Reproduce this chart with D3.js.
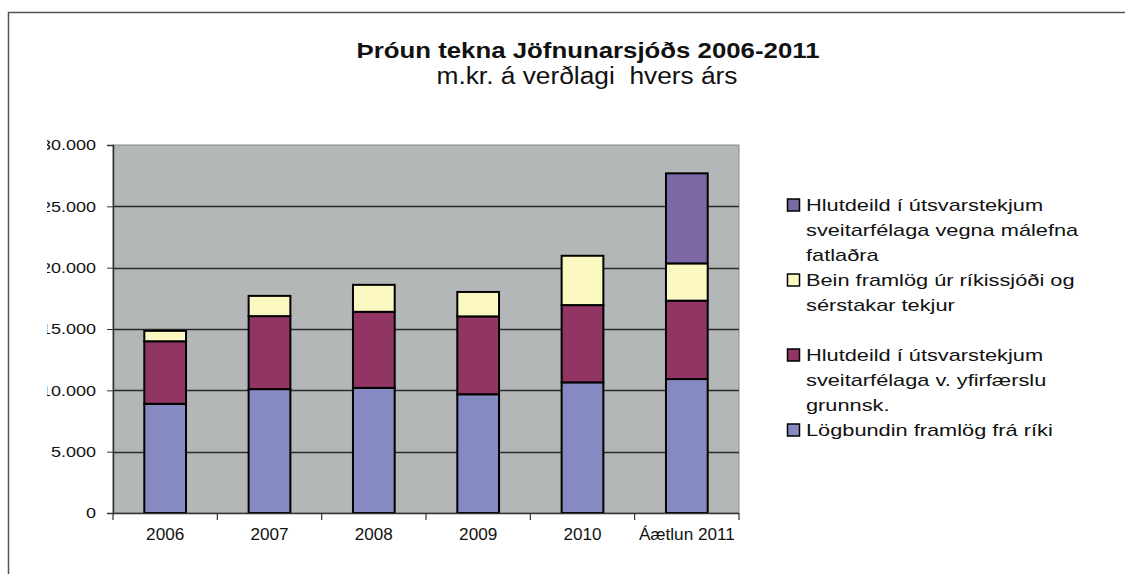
<!DOCTYPE html>
<html>
<head>
<meta charset="utf-8">
<script src="https://cdn.jsdelivr.net/npm/d3@7"></script>
<style>
  body { margin: 0; background: #fff; }
  svg { font-family: "Liberation Sans", Arial, sans-serif; }
</style>
</head>
<body>
<svg id="vis" width="1125" height="574"></svg>
<script>
// data (m.kr.)
const years = ['2006', '2007', '2008', '2009', '2010', 'Áætlun 2011'];
const logbundin = [8900, 10100, 10200, 9680, 10650, 10920];
const grunnsk = [5100, 5950, 6200, 6350, 6300, 6390];
const bein = [850, 1650, 2200, 1990, 4020, 3040];
const fatladra = [0, 0, 0, 0, 0, 7340];
const yTicks = [0, 5000, 10000, 15000, 20000, 25000, 30000];

const seriesKeys = ['logbundin', 'grunnsk', 'bein', 'fatladra'];
const colors = {
  logbundin: '#8689c2',
  grunnsk: '#913564',
  bein: '#fbf8c2',
  fatladra: '#7c68a4'
};
const legendLines = {
  fatladra: ['Hlutdeild í útsvarstekjum', 'sveitarfélaga vegna málefna', 'fatlaðra'],
  bein: ['Bein framlög úr ríkissjóði og', 'sérstakar tekjur'],
  grunnsk: ['Hlutdeild í útsvarstekjum', 'sveitarfélaga v. yfirfærslu', 'grunnsk.'],
  logbundin: ['Lögbundin framlög frá ríki']
};

let vis = d3.select('#vis');

// the original text is a bit wider than the font, stretch it
const stretch = (sel, k) => {
  sel.each(function () {
    const w = this.getComputedTextLength();
    d3.select(this)
      .attr('textLength', w * k)
      .attr('lengthAdjust', 'spacingAndGlyphs');
  });
};

// outer frame (top and left edge visible)
vis.append('path')
  .attr('d', 'M8.5,574 V12.5 H1125')
  .attr('fill', 'none')
  .attr('stroke', '#555')
  .attr('stroke-width', 1.5);

// titles
vis.append('text')
  .attr('x', 588).attr('y', 58)
  .attr('text-anchor', 'middle')
  .attr('font-size', 22).attr('font-weight', 'bold')
  .attr('fill', '#111')
  .attr('textLength', 463).attr('lengthAdjust', 'spacingAndGlyphs')
  .text('Þróun tekna Jöfnunarsjóðs 2006-2011');
vis.append('text')
  .attr('x', 587).attr('y', 84)
  .attr('text-anchor', 'middle')
  .attr('font-size', 23)
  .attr('fill', '#111')
  .attr('textLength', 301).attr('lengthAdjust', 'spacingAndGlyphs')
  .style('white-space', 'pre')
  .text('m.kr. á verðlagi  hvers árs');

const plot = { left: 113, right: 739, top: 145, bottom: 513 };

const x = d3.scaleBand()
  .domain(years)
  .range([plot.left, plot.right])
  .paddingInner(0.6)
  .paddingOuter(0.3);

const y = d3.scaleLinear()
  .domain([0, 30000])
  .range([plot.bottom, plot.top]);

// plot background
vis.append('rect')
  .attr('x', plot.left).attr('y', plot.top)
  .attr('width', plot.right - plot.left)
  .attr('height', plot.bottom - plot.top)
  .attr('fill', '#b4b7b8')
  .attr('stroke', '#8a8a8a')
  .attr('stroke-width', 1);

// gridlines
vis.append('g')
  .selectAll('line')
  .data(yTicks.filter(d => d > 0 && d < 30000))
  .enter()
  .append('line')
  .attr('x1', plot.left).attr('x2', plot.right)
  .attr('y1', d => Math.round(y(d)) + 0.5)
  .attr('y2', d => Math.round(y(d)) + 0.5)
  .attr('stroke', '#2a2a2a')
  .attr('stroke-width', 1.3);

// stacked bars
const table = years.map((yr, i) => ({
  year: yr,
  logbundin: logbundin[i],
  grunnsk: grunnsk[i],
  bein: bein[i],
  fatladra: fatladra[i]
}));
const stacked = d3.stack().keys(seriesKeys)(table);

vis.append('g')
  .selectAll('g')
  .data(stacked)
  .enter()
  .append('g')
  .attr('fill', d => colors[d.key])
  .selectAll('rect')
  .data(d => d.filter(s => s[1] - s[0] > 0))
  .enter()
  .append('rect')
  .attr('x', d => x(d.data.year))
  .attr('width', x.bandwidth())
  .attr('y', d => y(d[1]))
  .attr('height', d => y(d[0]) - y(d[1]))
  .attr('stroke', '#000')
  .attr('stroke-width', 2);

// y axis, labels cut off on the left like the original
vis.append('defs').append('clipPath').attr('id', 'yclip')
  .append('rect').attr('x', 47 - plot.left).attr('y', 0).attr('width', 200).attr('height', 574);

const yAxis = vis.append('g')
  .attr('transform', `translate(${plot.left},0)`)
  .attr('clip-path', 'url(#yclip)')
  .call(d3.axisLeft(y)
    .tickValues(yTicks)
    .tickSize(6)
    .tickPadding(11)
    .tickFormat(d => d === 0 ? '0' : d3.format(',')(d).replace(/,/g, '.')));
yAxis.select('.domain').attr('stroke', '#333').attr('stroke-width', 1.5);
yAxis.selectAll('.tick line').attr('stroke', '#333');
yAxis.selectAll('text')
  .attr('font-family', '"Liberation Sans", Arial, sans-serif')
  .attr('font-size', 15).attr('fill', '#111')
  .call(stretch, 1.2);

// x axis with ticks on band edges
const xAxisG = vis.append('g')
  .attr('transform', `translate(0,${plot.bottom})`);
xAxisG.append('line')
  .attr('x1', plot.left).attr('x2', plot.right)
  .attr('y1', 0.5).attr('y2', 0.5)
  .attr('stroke', '#333').attr('stroke-width', 1.5);
const edges = d3.range(years.length + 1).map(i => plot.left + i * (plot.right - plot.left) / years.length);
xAxisG.selectAll('line.tk')
  .data(edges)
  .enter()
  .append('line')
  .attr('class', 'tk')
  .attr('x1', d => d).attr('x2', d => d)
  .attr('y1', 0).attr('y2', 7)
  .attr('stroke', '#333').attr('stroke-width', 1.2);
xAxisG.selectAll('text')
  .data(years)
  .enter()
  .append('text')
  .attr('x', d => x(d) + x.bandwidth() / 2)
  .attr('y', 27)
  .attr('text-anchor', 'middle')
  .attr('font-size', 16).attr('fill', '#111')
  .text(d => d)
  .call(stretch, 1.07);

// legend
const legend = vis.append('g');
const legendOrder = seriesKeys.slice().reverse();
legendOrder.forEach((key, i) => {
  const top = 205 + i * 75;
  legend.append('rect')
    .attr('x', 787.5).attr('y', top - 6)
    .attr('width', 12).attr('height', 12)
    .attr('fill', colors[key])
    .attr('stroke', '#000').attr('stroke-width', 1.5);
  legendLines[key].forEach((line, j) => {
    legend.append('text')
      .attr('x', 806)
      .attr('y', top + j * 25 + 6)
      .attr('font-size', 17).attr('fill', '#111')
      .text(line)
      .call(stretch, 1.28);
  });
});
</script>
</body>
</html>
